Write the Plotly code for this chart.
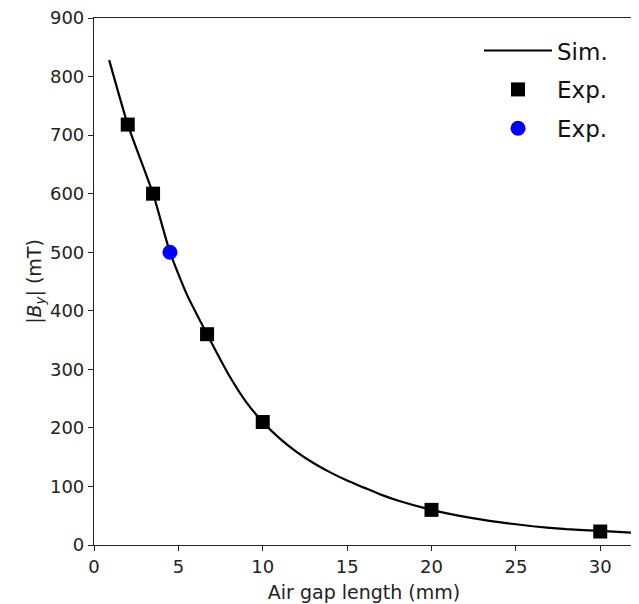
import plotly.graph_objects as go

sim_x = [0.9, 2, 3.5, 4.5, 5.5, 6.7, 8, 9, 10, 11, 12, 13, 14, 15, 16, 17, 18, 20, 22, 24, 26, 28, 30, 32]
sim_y = [828, 718, 600, 500, 428, 360, 290, 245, 210, 182, 159, 140, 124, 110, 98, 86, 76, 60, 48, 39, 32, 27, 24, 21]

exp_x = [2, 3.5, 6.7, 10, 20, 30]
exp_y = [718, 600, 360, 210, 60, 23]

exp2_x = [4.5]
exp2_y = [500]

x_ticks = [0, 5, 10, 15, 20, 25, 30]
y_ticks = [0, 100, 200, 300, 400, 500, 600, 700, 800, 900]

fig = go.Figure()
fig.add_trace(go.Scatter(x=sim_x, y=sim_y, mode="lines", name="Sim.", legendgroup="a",
                         line=dict(color="black", width=2.2, shape="spline", smoothing=0.5)))
fig.add_trace(go.Scatter(x=exp_x, y=exp_y, mode="markers", name="Exp.", legendgroup="b",
                         marker=dict(symbol="square", color="black", size=14)))
fig.add_trace(go.Scatter(x=exp2_x, y=exp2_y, mode="markers", name="Exp.", legendgroup="c",
                         marker=dict(symbol="circle", color="#0000ff", size=15)))

axis_common = dict(showgrid=False, zeroline=False, showline=True, linecolor="#222",
                   linewidth=1.2, mirror=True, ticks="outside", ticklen=5, tickwidth=1.2,
                   tickcolor="#222", tickfont=dict(size=18, color="#222"), automargin=False,
                   ticklabeloverflow="allow")

fig.update_layout(
    width=631, height=596,
    autosize=False,
    margin=dict(l=86, r=5, t=10, b=59),
    paper_bgcolor="white", plot_bgcolor="white",
    font=dict(family="DejaVu Sans", color="#222"),
    xaxis=dict(range=[0, 32], tickvals=x_ticks,
               title=dict(text="Air gap length (mm)", font=dict(size=19), standoff=9),
               **axis_common),
    yaxis=dict(range=[0, 900], tickvals=y_ticks,
               title=dict(text="|<i>B</i><sub><i>y</i></sub>| (mT)", font=dict(size=19), standoff=3),
               **axis_common),
    legend=dict(x=0.713, y=0.979, xanchor="left", yanchor="top", bgcolor="rgba(0,0,0,0)",
                font=dict(size=23, color="#111"), itemwidth=68, tracegroupgap=6),
    showlegend=True,
)

fig.write_html("out.html")
